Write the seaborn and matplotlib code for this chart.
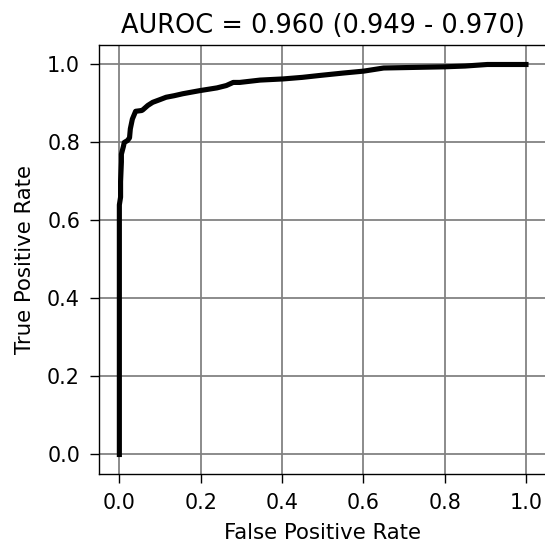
import numpy as np
import pandas as pd
import matplotlib
matplotlib.use("Agg")
import matplotlib.pyplot as plt
import seaborn as sns

# roc curve values
fpr = [0.0, 0.0, 0.003, 0.003, 0.005, 0.005, 0.010, 0.012, 0.020, 0.025, 0.027,
       0.032, 0.036, 0.040, 0.055, 0.058, 0.070, 0.082, 0.100, 0.115, 0.135,
       0.156, 0.198, 0.240, 0.263, 0.280, 0.296, 0.346, 0.403, 0.450, 0.494,
       0.550, 0.601, 0.650, 0.700, 0.798, 0.850, 0.905, 1.0]
tpr = [0.0, 0.640, 0.660, 0.700, 0.750, 0.770, 0.790, 0.800, 0.805, 0.812, 0.835,
       0.860, 0.870, 0.880, 0.882, 0.884, 0.895, 0.903, 0.910, 0.916, 0.920,
       0.925, 0.933, 0.940, 0.946, 0.954, 0.954, 0.960, 0.963, 0.967, 0.972,
       0.978, 0.983, 0.991, 0.992, 0.994, 0.996, 1.0, 1.0]
title = "AUROC = 0.960 (0.949 - 0.970)"

df = pd.DataFrame({"fpr": fpr, "tpr": tpr})

dpi = 142
fig = plt.figure(figsize=(545 / dpi, 544 / dpi), dpi=dpi)
ax = fig.add_axes([0.1817, 0.1287, 0.8207, 0.7886])

sns.lineplot(data=df, x="fpr", y="tpr", sort=False, estimator=None,
             color="black", linewidth=2.6, ax=ax)

ax.grid(True, color="grey", linewidth=0.9)
ax.set_axisbelow(True)
ax.set_xticks([0.0, 0.2, 0.4, 0.6, 0.8, 1.0])
ax.set_yticks([0.0, 0.2, 0.4, 0.6, 0.8, 1.0])
ax.tick_params(labelsize=10.5, length=4.6, width=0.7, pad=5)
for s in ax.spines.values():
    s.set_linewidth(0.7)
ax.spines["right"].set_visible(False)
ax.set_xlabel("False Positive Rate", fontsize=10.8, labelpad=5)
ax.set_ylabel("True Positive Rate", fontsize=10.8, labelpad=6)
ax.set_title(title, fontsize=13)

fig.savefig("out.png", dpi=dpi)
